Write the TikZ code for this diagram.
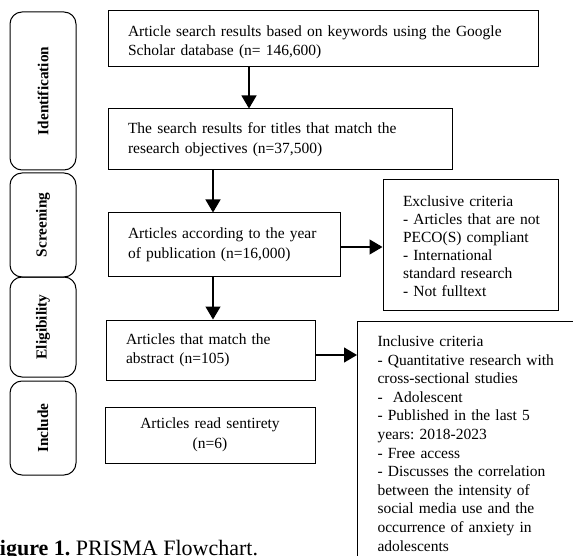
\documentclass[tikz,border=0pt]{standalone}
\usepackage{fontspec}
\setmainfont{Liberation Serif}
\usetikzlibrary{arrows.meta}
\frenchspacing
\newcommand{\lines}[1]{\begin{tabular}{@{}l@{}}#1\end{tabular}}
\begin{document}
\begin{tikzpicture}[x=1pt,y=-1pt,
  every node/.style={font=\fontsize{15.5}{19.5}\selectfont},
  stage/.style={draw,line width=1pt,rounded corners=12pt,minimum width=66pt,inner sep=0pt},
  stagelabel/.style={rotate=90,font=\fontsize{15.3}{17}\bfseries\selectfont},
  flowbox/.style={draw,line width=1pt,inner xsep=20pt,inner ysep=0pt,align=left},
  arr/.style={line width=1.2pt,-{Triangle[length=13pt,width=15pt]}}]
\useasboundingbox (0,0) rectangle (573,556);
\clip (0,0) rectangle (573,556);
% stage boxes
\node[stage,minimum height=158pt] (sid) at (43,91) {};
\node[stagelabel] at (sid.center) {Identification};
\node[stage,minimum height=104pt] (ssc) at (43,225) {};
\node[stagelabel] at (ssc.center) {Screening};
\node[stage,minimum height=100pt] (sel) at (43,327) {};
\node[stagelabel] at (sel.center) {Eligibility};
\node[stage,minimum height=94pt] (sin) at (43,428) {};
\node[stagelabel] at (sin.center) {Include};
% flow boxes
\node[flowbox,text width=390pt,minimum height=56pt] (b1) at (323,39)
  {\lines{\rule{0pt}{19.6pt}Article search results based on keywords using the Google\\Scholar database (n= 146,600)}};
\node[flowbox,text width=304pt,minimum height=61pt] (b2) at (280,139.5)
  {\lines{The search results for titles that match the\\research objectives (n=37,500)}};
\node[flowbox,text width=192pt,minimum height=63pt] (b3) at (224,244.5)
  {\lines{Articles according to the year\\of publication (n=16,000)}};
\node[flowbox,text width=169pt,minimum height=60pt] (b4) at (210.5,350)
  {\lines{Articles that match the\\abstract (n=105)}};
\node[flowbox,text width=170pt,minimum height=56pt,align=center] (b5) at (210,435)
  {Articles read sentirety\\(n=6)};
\node[flowbox,text width=135pt,minimum height=130pt,font=\fontsize{15.5}{18}\selectfont] (ex) at (470.5,245)
  {\lines{\rule{0pt}{18.6pt}Exclusive criteria\\- Articles that are not\\PECO(S) compliant\\- International\\standard research\\- Not fulltext}};
\node[flowbox,text width=200pt,anchor=north west,inner ysep=12pt,font=\fontsize{15.5}{18.6}\selectfont] (in) at (357,321)
  {\lines{Inclusive criteria\\- Quantitative research with\\cross-sectional studies\\-~~Adolescent\\- Published in the last 5\\years: 2018-2023\\- Free access\\- Discusses the correlation\\between the intensity of\\social media use and the\\occurrence of anxiety in\\adolescents\\ \\}};
% arrows
\draw[arr] (b1.south -| 249,0) -- (b2.north -| 249,0);
\draw[arr] (b2.south -| 213,0) -- (b3.north -| 213,0);
\draw[arr] (b3.south -| 213,0) -- (b4.north -| 213,0);
\draw[arr] (b3.east |- 0,247) -- (ex.west |- 0,247);
\draw[arr] (b4.east |- 0,355) -- (in.west |- 0,355);
% caption
\node[anchor=base west,inner sep=0pt,font=\fontsize{22}{24}\selectfont] (cap) at (-13.7,555.5)
  {\textbf{Figure 1.} PRISMA Flowchart.};
\end{tikzpicture}
\end{document}
